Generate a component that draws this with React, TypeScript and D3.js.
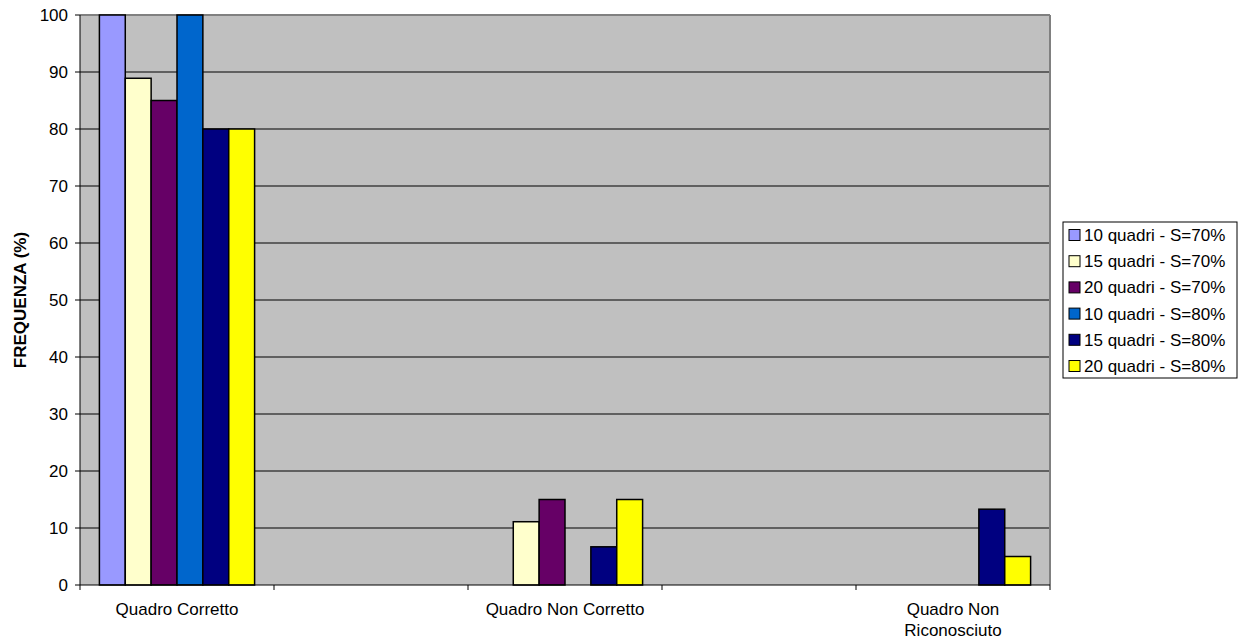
import React from "react";
import * as d3 from "d3";

const categories = ["Quadro Corretto", "", "Quadro Non Corretto", "", "Quadro Non\nRiconosciuto"];
const seriesNames = [
  "10 quadri - S=70%",
  "15 quadri - S=70%",
  "20 quadri - S=70%",
  "10 quadri - S=80%",
  "15 quadri - S=80%",
  "20 quadri - S=80%",
];
const seriesColors = ["#9999FF", "#FFFFCC", "#660066", "#0066CC", "#000080", "#FFFF00"];
const s10q70 = [100, 0, 0, 0, 0];
const s15q70 = [88.9, 0, 11.1, 0, 0];
const s20q70 = [85, 0, 15, 0, 0];
const s10q80 = [100, 0, 0, 0, 0];
const s15q80 = [80, 0, 6.7, 0, 13.3];
const s20q80 = [80, 0, 15, 0, 5];
const seriesValues = [s10q70, s15q70, s20q70, s10q80, s15q80, s20q80];
const yTicks = [0, 10, 20, 30, 40, 50, 60, 70, 80, 90, 100];
const yLabel = "FREQUENZA (%)";

const W = 1245;
const H = 642;
const left = 80;
const right = 1050;
const top = 15;
const bottom = 585;
const font = "'Liberation Sans', Arial, sans-serif";

export default function App() {
  const x = d3.scaleBand<number>().domain(d3.range(categories.length)).range([left, right]).padding(0);
  const xs = d3
    .scaleBand<number>()
    .domain(d3.range(seriesNames.length))
    .range([0, x.bandwidth()])
    .paddingInner(0)
    .paddingOuter(0.75);
  const y = d3.scaleLinear().domain([0, 100]).range([bottom, top]);

  const boundaries = d3.range(categories.length + 1).map((i) => left + i * x.step());

  return (
    <svg width={W} height={H} style={{ position: "absolute", left: 0, top: 0 }} fontFamily={font}>
      <rect x={0} y={0} width={W} height={H} fill="#fff" />
      <rect x={left} y={top} width={right - left} height={bottom - top} fill="#C0C0C0" />
      {yTicks.slice(1).map((t) => (
        <line key={t} x1={left} x2={right} y1={y(t)} y2={y(t)} stroke="#000" strokeWidth={1} />
      ))}
      <line x1={left} x2={right} y1={top} y2={top} stroke="#808080" strokeWidth={2} />
      <line x1={right} x2={right} y1={top} y2={bottom} stroke="#808080" strokeWidth={2} />
      {seriesValues.map((vals, si) =>
        vals.map((v, ci) =>
          v > 0 ? (
            <rect
              key={si + "-" + ci}
              x={(x(ci) as number) + (xs(si) as number)}
              y={y(v)}
              width={xs.bandwidth()}
              height={y(0) - y(v)}
              fill={seriesColors[si]}
              stroke="#000"
              strokeWidth={1.5}
            />
          ) : null
        )
      )}
      {/* y axis */}
      <line x1={left} x2={left} y1={top} y2={bottom} stroke="#000" strokeWidth={1} />
      {yTicks.map((t) => (
        <g key={t}>
          <line x1={left - 5} x2={left} y1={y(t)} y2={y(t)} stroke="#000" />
          <text x={left - 12} y={y(t)} dy="0.35em" textAnchor="end" fontSize={17} fill="#000">
            {t}
          </text>
        </g>
      ))}
      {/* x axis */}
      <line x1={left} x2={right} y1={bottom} y2={bottom} stroke="#000" strokeWidth={1} />
      {boundaries.map((b, i) => (
        <line key={i} x1={b} x2={b} y1={bottom} y2={bottom + 5} stroke="#000" />
      ))}
      {categories.map((c, i) =>
        c ? (
          <text key={i} x={(x(i) as number) + x.bandwidth() / 2} y={615} textAnchor="middle" fontSize={17} fill="#000">
            {c.split("\n").map((line, li) => (
              <tspan key={li} x={(x(i) as number) + x.bandwidth() / 2} dy={li === 0 ? 0 : 21}>
                {line}
              </tspan>
            ))}
          </text>
        ) : null
      )}
      <text
        transform={`translate(26,${(top + bottom) / 2}) rotate(-90)`}
        textAnchor="middle"
        fontSize={17}
        fontWeight="bold"
        fill="#000"
      >
        {yLabel}
      </text>
      {/* legend */}
      <rect x={1063} y={222} width={174} height={156} fill="#fff" stroke="#000" strokeWidth={1} />
      {seriesNames.map((n, i) => {
        const cy = 235 + i * 26.2;
        return (
          <g key={n}>
            <rect x={1069} y={cy - 5.5} width={11} height={11} fill={seriesColors[i]} stroke="#000" strokeWidth={1} />
            <text x={1084} y={cy} dy="0.35em" fontSize={17} fill="#000">
              {n}
            </text>
          </g>
        );
      })}
    </svg>
  );
}
